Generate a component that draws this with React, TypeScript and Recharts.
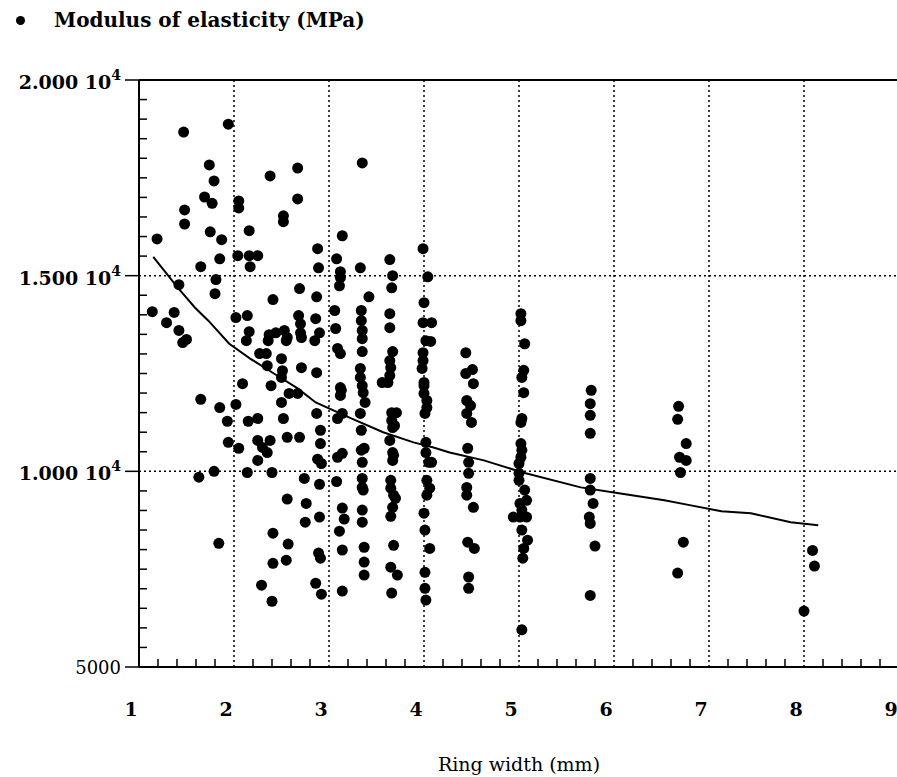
import React from 'react'
import { CartesianGrid, Label, Legend, ReferenceLine, Scatter, ScatterChart, XAxis, YAxis } from 'recharts'

// ring width (mm) / modulus of elasticity (MPa), paired by index
const ringWidth = [
  1.47, 1.94, 1.74, 1.79, 1.69, 1.77, 1.48, 1.48, 1.75, 1.87, 1.19, 1.85, 1.65, 1.81, 1.42, 1.8, 1.14, 1.29, 1.37, 1.42,
  1.5, 1.46, 2.05, 2.05, 2.38, 2.67, 2.67, 2.52, 2.52, 2.16, 2.04, 2.16, 2.25, 2.17, 2.88, 2.89, 3.14, 3.08, 3.12, 3.12,
  3.11, 2.69, 2.41, 2.87, 2.02, 2.14, 2.16, 2.13, 2.68, 2.7, 2.7, 2.71, 2.37, 2.36, 2.44, 2.53, 2.55, 2.56, 2.86, 2.9,
  2.85, 3.06, 3.07, 3.09, 3.12, 2.27, 2.34, 2.35, 2.5, 2.51, 2.5, 2.71, 2.87, 3.12, 2.09, 2.39,
  1.65, 1.85, 2.02, 2.5, 2.58, 2.67, 3.13, 3.12, 1.93, 2.15, 2.25, 2.52, 2.87, 3.14, 3.09, 2.91, 1.94, 2.05, 2.25, 2.38,
  2.3, 2.35, 2.25, 2.56, 2.69, 2.91, 2.88, 2.92, 3.14, 3.09, 1.79, 1.63, 2.14, 2.4, 2.74, 2.9, 3.08, 2.56, 2.76, 2.75,
  2.9, 3.14, 3.16, 3.11, 2.41, 2.57, 1.84, 2.89, 2.91, 3.14, 2.41, 2.55, 2.29, 2.86, 2.92, 3.14, 2.4,
  3.35, 3.33, 3.64, 3.67, 3.66, 3.99, 4.04, 3.42, 4.0, 3.34, 3.34, 3.35, 3.35, 3.64, 3.64, 3.99, 4.08, 4.02, 4.07, 3.35,
  3.67, 3.64, 3.65, 3.64, 3.62, 3.33, 3.33, 3.35, 3.99, 3.99, 3.98, 4.0, 4.44, 4.44, 4.51, 4.52, 3.56,
  3.36, 3.38, 4.0, 4.0, 4.03, 4.03, 4.01, 4.45, 4.49, 4.45, 4.5, 3.33, 3.34, 3.66, 3.71, 3.66, 3.69, 3.67, 3.64, 4.02,
  4.46, 3.34, 3.37, 3.35, 3.67, 3.67, 3.68, 4.02, 4.05, 4.08, 4.47, 4.47, 3.35, 3.35, 3.36, 3.65, 3.65, 3.68, 3.7, 3.67,
  3.65, 4.03, 4.06, 4.03, 4.45, 4.45, 4.52, 3.35, 3.35, 4.0, 4.94, 5.01, 3.37, 3.37, 3.37, 3.68, 3.65, 3.72, 4.01, 4.06,
  4.01, 4.01, 4.02, 4.46, 4.53, 4.47, 4.47, 3.66,
  5.02, 5.02, 5.06, 5.05, 5.03, 5.05, 5.03, 5.02, 5.02, 5.03, 5.02, 5.0, 5.0, 5.0, 5.06, 5.08, 5.01, 5.03, 5.08, 5.03,
  5.09, 5.05, 5.04, 5.03, 5.76, 5.75, 5.75, 5.75, 5.75, 5.75, 5.78, 5.74, 5.75, 5.8, 5.75, 6.68, 6.67, 6.76, 6.69, 6.76,
  6.7, 6.73, 6.67, 8.09, 8.11, 8.0,
]

const modulus = [
  18670, 18870, 17830, 17420, 17010, 16850, 16680, 16320, 16120, 15920, 15940, 15430, 15230, 14900, 14770, 14540, 14080, 13800, 14060, 13600,
  13370, 13290, 16910, 16730, 17550, 17750, 16960, 16530, 16380, 16150, 15510, 15510, 15510, 15230, 15690, 15200, 16020, 15430, 15100, 14950,
  14740, 14670, 14390, 14460, 13930, 13980, 13570, 13340, 13980, 13770, 13540, 13420, 13490, 13340, 13540, 13600, 13340, 13420, 13900, 13540,
  13340, 14110, 13650, 13140, 13010, 13010, 13010, 12700, 12880, 12570, 12400, 12650, 12520, 12140, 12240, 12190,
  11840, 11630, 11710, 11760, 11990, 11990, 12070, 11940, 11280, 11280, 11350, 11350, 11480, 11480, 11350, 11050, 10740, 10590, 10790, 10790,
  10610, 10480, 10280, 10870, 10870, 10710, 10310, 10200, 10460, 10360, 10000, 9850, 9970, 9970, 9820, 9670, 9740, 9290, 9180, 8700,
  8830, 9060, 8780, 8470, 8420, 8140, 8160, 7910, 7780, 7990, 7650, 7730, 7090, 7140, 6860, 6940, 6680,
  17880, 15200, 15410, 15000, 14690, 15690, 14970, 14460, 14310, 14110, 13850, 13600, 13390, 14030, 13670, 13800, 13800, 13340, 13320, 13060,
  13060, 12830, 12650, 12450, 12270, 12630, 12400, 12190, 13030, 12830, 12630, 12270, 13030, 12500, 12600, 12240, 12270,
  12010, 11760, 12190, 11990, 11810, 11630, 11480, 11810, 11680, 11480, 11250, 11480, 11050, 11500, 11500, 11300, 11170, 11120, 10790, 10740,
  10590, 10540, 10590, 10230, 10480, 10280, 10410, 10480, 10230, 10230, 10230, 9950, 9820, 9590, 9520, 9770, 9570, 9390, 9310, 9080,
  8850, 9770, 9570, 9390, 9590, 9390, 9080, 9010, 8700, 8930, 8830, 8830, 8060, 7680, 7350, 8110, 7550, 7350, 8500, 8030,
  7420, 7010, 6710, 8190, 8030, 7300, 7010, 6890,
  14030, 13850, 13260, 12580, 12400, 12010, 11350, 11250, 10710, 10540, 10360, 10200, 9950, 9770, 9520, 9260, 9180, 9010, 8830, 8500,
  8240, 8030, 7780, 5950, 12070, 11730, 11430, 10970, 9820, 9520, 9180, 8830, 8670, 8090, 6830, 11660, 11330, 10710, 10360, 10280,
  9970, 8190, 7400, 7980, 7580, 6430,
]

// fitted curve
const fitWidth = [1.15, 1.41, 1.59, 1.73, 1.95, 2.17, 2.42, 2.67, 2.86, 3.21, 3.57, 3.89, 4.1, 4.27, 4.63, 5.04, 5.65, 6.0, 6.53, 6.81, 7.13, 7.44, 7.86, 8.15]
const fitModulus = [15480, 14690, 14180, 13850, 13260, 12880, 12500, 12120, 11760, 11380, 11000, 10740, 10610, 10480, 10280, 9970, 9590, 9460, 9260, 9130, 8980, 8930, 8700, 8620]

const xTicks = [1, 2, 3, 4, 5, 6, 7, 8, 9]
const xMinorTicks = [
  1.2, 1.4, 1.6, 1.8, 2.2, 2.4, 2.6, 2.8, 3.2, 3.4, 3.6, 3.8, 4.2, 4.4, 4.6, 4.8,
  5.2, 5.4, 5.6, 5.8, 6.2, 6.4, 6.6, 6.8, 7.2, 7.4, 7.6, 7.8, 8.2, 8.4, 8.6, 8.8,
]
const yTicks = [5000, 10000, 15000, 20000]
const yTickText = ['5000', '1.000 10', '1.500 10', '2.000 10']
const yTickExp = ['', '4', '4', '4']
const yMinorTicks = [
  5500, 6000, 6500, 7000, 7500, 8000, 8500, 9000, 9500, 10500, 11000, 11500, 12000, 12500, 13000, 13500, 14000, 14500,
  15500, 16000, 16500, 17000, 17500, 18000, 18500, 19000, 19500,
]

const points = ringWidth.map((x, i) => ({ x, y: modulus[i] }))
const fit = fitWidth.map((x, i) => ({ x, y: fitModulus[i] }))

const serif = 'DejaVu Serif'
const MINOR = 8

function Dot(props: any) {
  return <circle cx={props.cx} cy={props.cy} r={5.5} fill="#000" />
}

// short inward tick on the bottom axis, placed by the axis scale
function XMinorTick({ payload, y }: any) {
  return <line x1={payload.coordinate} x2={payload.coordinate} y1={y} y2={y - MINOR} stroke="#000" strokeWidth={1.5} />
}

// short inward tick on the left axis
function YMinorTick({ payload, x }: any) {
  return <line x1={x} x2={x + MINOR} y1={payload.coordinate} y2={payload.coordinate} stroke="#000" strokeWidth={1.5} />
}

function YTick({ x, y, payload }: any) {
  const i = yTicks.indexOf(payload.value)
  const exp = yTickExp[i]
  return (
    <text
      x={x}
      y={y}
      dy={exp ? 9 : 7}
      textAnchor="end"
      fontFamily={serif}
      fontSize={exp ? 19 : 18}
      fontWeight={exp ? 700 : 400}
      fill="#000"
    >
      {yTickText[i]}
      {exp && (
        <tspan dy={-9} fontSize={14}>
          {exp}
        </tspan>
      )}
    </text>
  )
}

function LegendBox() {
  return (
    <div style={{ display: 'flex', alignItems: 'center', height: 26 }}>
      <span style={{ width: 9, height: 9, borderRadius: '50%', background: '#000', display: 'inline-block' }} />
      <span style={{ marginLeft: 29, fontFamily: serif, fontWeight: 700, fontSize: 20, color: '#000' }}>
        Modulus of elasticity (MPa)
      </span>
    </div>
  )
}

export default function App() {
  return (
    <div style={{ position: 'absolute', left: 0, top: 0, width: 897, height: 777, overflow: 'hidden', background: '#fff' }}>
      <ScatterChart width={900} height={777} margin={{ top: 80, right: 1, bottom: 0, left: 0 }}>
        <CartesianGrid stroke="#000" strokeWidth={1.5} strokeDasharray="2 3" />
        <XAxis
          type="number"
          dataKey="x"
          domain={[1, 9]}
          ticks={xTicks}
          interval={0}
          height={110}
          axisLine={{ stroke: '#000', strokeWidth: 2 }}
          tickLine={false}
          tickSize={0}
          tickMargin={36}
          tick={{ fontFamily: serif, fontSize: 19, fontWeight: 700, fill: '#000', dx: -8 }}
        >
          <Label
            value="Ring width (mm)"
            position="insideBottom"
            offset={6}
            style={{ fontFamily: serif, fontSize: 19, fill: '#000' }}
          />
        </XAxis>
        <XAxis
          xAxisId="minor"
          type="number"
          dataKey="x"
          domain={[1, 9]}
          ticks={xMinorTicks}
          interval={0}
          height={1}
          mirror
          allowDataOverflow
          axisLine={false}
          tickLine={false}
          tickSize={0}
          tickMargin={0}
          tick={<XMinorTick />}
        />
        <YAxis
          type="number"
          dataKey="y"
          domain={[5000, 20000]}
          ticks={yTicks}
          interval={0}
          width={139}
          axisLine={{ stroke: '#000', strokeWidth: 2 }}
          tickLine={{ stroke: '#000', strokeWidth: 1.5 }}
          tickSize={14}
          tickMargin={4}
          tick={<YTick />}
        />
        <YAxis
          yAxisId="minor"
          type="number"
          dataKey="y"
          domain={[5000, 20000]}
          ticks={yMinorTicks}
          interval={0}
          width={1}
          mirror
          allowDataOverflow
          axisLine={false}
          tickLine={false}
          tickSize={0}
          tickMargin={0}
          tick={<YMinorTick />}
        />
        <ReferenceLine y={20000} stroke="#000" strokeWidth={2} />
        <Legend
          layout="horizontal"
          verticalAlign="middle"
          align="center"
          wrapperStyle={{ top: 7, left: 16, width: 460, height: 26 }}
          content={() => <LegendBox />}
        />
        <Scatter data={points} shape={<Dot />} isAnimationActive={false} />
        <Scatter
          data={fit}
          xAxisId="minor"
          yAxisId="minor"
          line={{ stroke: '#000', strokeWidth: 2 }}
          lineType="joint"
          shape={() => <g />}
          isAnimationActive={false}
        />
      </ScatterChart>
    </div>
  )
}
